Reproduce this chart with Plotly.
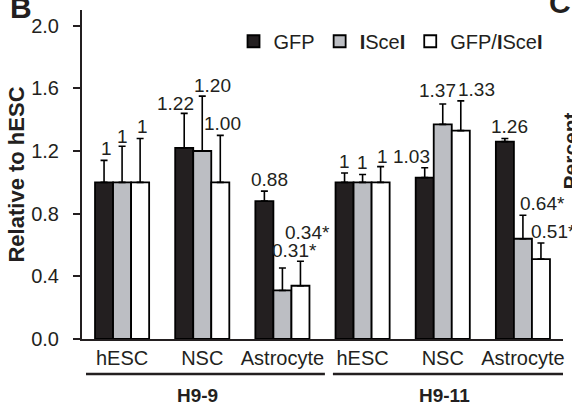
import plotly.graph_objects as go

# ---- data ----
groups = ["H9-9", "H9-11"]
cells = ["hESC", "NSC", "Astrocyte"]
tick_labels = cells * 2

gfp = [1.00, 1.22, 0.88, 1.00, 1.03, 1.26]
isce = [1.00, 1.20, 0.31, 1.00, 1.37, 0.64]
both = [1.00, 1.00, 0.34, 1.00, 1.33, 0.51]

gfp_err = [0.14, 0.22, 0.064, 0.06, 0.063, 0.02]
isce_err = [0.23, 0.35, 0.143, 0.05, 0.13, 0.15]
both_err = [0.28, 0.30, 0.156, 0.10, 0.19, 0.103]

gfp_lab = ["1", "1.22", "0.88", "1", "1.03", "1.26"]
isce_lab = ["1", "1.20", "0.31*", "1", "1.37", "0.64*"]
both_lab = ["1", "1.00", "0.34*", "1", "1.33", "0.51*"]

series_names = ["GFP", "<b>I</b>Sce<b>I</b>", "GFP/<b>I</b>Sce<b>I</b>"]

# ---- styles ----
colors = ["#231f20", "#bcbec3", "#ffffff"]
FONT = "Liberation Sans, Arial, Helvetica, sans-serif"
TXT = "#231f20"
# label pixel offsets (dx, dy up) per series
lab_dx = [[2, -9, 5, 0, -13, 5], [0, 10, 12, 0, -5, 20], [2, 2, 7, 2, 16, 13]]
lab_dy = [[12, 10, 12, 11, 11, 12], [10, 11, 18, 12, 14, 12], [12, 12, 29, 10, 11, 11]]

xs = list(range(len(tick_labels)))
vals = [gfp, isce, both]
errs = [gfp_err, isce_err, both_err]
labs = [gfp_lab, isce_lab, both_lab]

fig = go.Figure()
for k in range(3):
    fig.add_trace(go.Bar(
        x=xs, y=vals[k], name=series_names[k],
        marker=dict(color=colors[k], line=dict(color="#000000", width=1.8)),
        error_y=dict(type="data", array=errs[k], arrayminus=[0] * len(xs),
                     symmetric=False, color="#000000", thickness=1.6, width=3.5),
    ))

BW = 0.225
annotations = []
for k in range(3):
    for i in xs:
        annotations.append(dict(
            x=i + (k - 1) * BW, y=vals[k][i] + errs[k][i], xref="x", yref="y",
            text=labs[k][i], showarrow=False, xanchor="center", yanchor="middle",
            xshift=lab_dx[k][i], yshift=lab_dy[k][i],
            font=dict(family=FONT, size=19, color=TXT),
        ))

# group labels
annotations.append(dict(x=1, y=-0.172, xref="x", yref="paper", text="<b>H9-9</b>",
                        showarrow=False, xshift=-5, yanchor="middle",
                        font=dict(family=FONT, size=19, color=TXT)))
annotations.append(dict(x=4, y=-0.172, xref="x", yref="paper", text="<b>H9-11</b>",
                        showarrow=False, xshift=2, yanchor="middle",
                        font=dict(family=FONT, size=19, color=TXT)))
# panel letters / neighbouring panel fragments
annotations.append(dict(x=0, y=1.0, xref="paper", yref="paper", text="<b>B</b>",
                        showarrow=False, xanchor="center", yanchor="middle", xshift=-61, yshift=3,
                        font=dict(family=FONT, size=30, color=TXT)))
annotations.append(dict(x=1, y=1.0, xref="paper", yref="paper", text="<b>C</b>",
                        showarrow=False, xanchor="center", yanchor="middle", xshift=-3, yshift=8,
                        font=dict(family=FONT, size=30, color=TXT)))
annotations.append(dict(x=1, y=0.57, xref="paper", yref="paper", text="<b>Percent</b>",
                        showarrow=False, textangle=-90, xanchor="center", yanchor="middle", xshift=7,
                        font=dict(family=FONT, size=21, color=TXT)))

shapes = [
    dict(type="line", xref="x", yref="paper", x0=-0.45, x1=2.53, y0=-0.1065, y1=-0.1065,
         line=dict(color=TXT, width=2.5)),
    dict(type="line", xref="x", yref="paper", x0=2.63, x1=5.6, y0=-0.1065, y1=-0.1065,
         line=dict(color=TXT, width=2.5)),
]

fig.update_layout(
    width=572, height=407,
    margin=dict(l=82, r=9, t=10, b=68, autoexpand=False),
    paper_bgcolor="white", plot_bgcolor="white",
    barmode="group", bargap=0.325, bargroupgap=0,
    font=dict(family=FONT, size=19, color=TXT),
    showlegend=True,
    legend=dict(orientation="h", x=0.315, y=0.905, xanchor="left", yanchor="middle",
                bgcolor="rgba(0,0,0,0)", font=dict(family=FONT, size=20, color=TXT),
                traceorder="normal"),
    annotations=annotations, shapes=shapes,
    xaxis=dict(range=[-0.5, 5.5], tickmode="array", tickvals=xs, ticktext=tick_labels,
               showline=True, linecolor=TXT, linewidth=2, ticks="", automargin=False,
               showgrid=False, zeroline=False, tickfont=dict(size=20)),
    yaxis=dict(range=[0, 2.1], tickmode="array", tickvals=[0, 0.4, 0.8, 1.2, 1.6, 2.0],
               tickformat=".1f", showline=True, linecolor=TXT, linewidth=2, automargin=False,
               ticks="outside", ticklen=7, tickwidth=2, tickcolor=TXT,
               showgrid=False, zeroline=False, tickfont=dict(size=20), ticklabelstandoff=10,
               title=dict(text="<b>Relative to hESC</b>", font=dict(size=22), standoff=0)),
)

fig.write_html("out.html", config={"displayModeBar": False},
               post_script="document.body.style.margin='0px';document.body.style.overflow='hidden';")
